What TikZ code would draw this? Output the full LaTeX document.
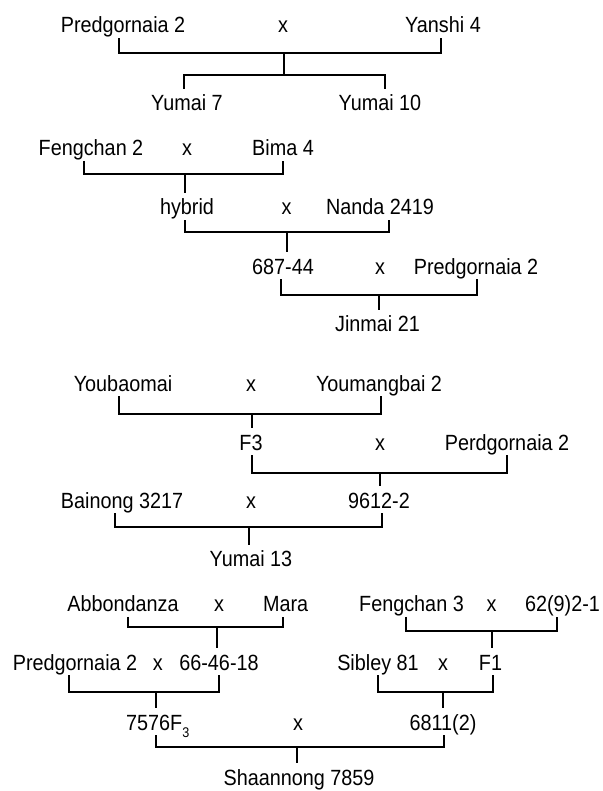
\documentclass[tikz,border=0pt]{standalone}
\usepackage{fontspec}
\setmainfont{Liberation Sans}[FakeStretch=0.9]
\usepackage{tikz}
\tikzset{
    cultivar/.style={
        anchor=base, inner sep=0pt, text height=22pt, text depth=5pt,
        font=\fontsize{22}{26}\selectfont
    }
}

\begin{document}
\begin{tikzpicture}[x=1pt, y=-1pt, link/.style={draw=black, line width=2pt}]
		\useasboundingbox (0,0) rectangle (602,791);
		\node[cultivar] (pred1) at (123,33) {Predgornaia 2};
		\node[cultivar] (x1) at (283,33) {x};
		\node[cultivar] (yanshi) at (443,33) {Yanshi 4};
		\node[cultivar] (yumai7) at (187,111) {Yumai 7};
		\node[cultivar] (yumai10) at (380,111) {Yumai 10};
		\coordinate (j1) at (284,53);
		\coordinate (s1) at (284,75);
		\draw[link] ([xshift=-4pt]pred1.south) |- (j1) -| ([xshift=-2pt]yanshi.south);
		\draw[link] (j1) -- (s1);
		\draw[link] ([xshift=-3.5pt]yumai7.north) |- (s1) -| ([xshift=5pt]yumai10.north);
		
		\node[cultivar] (feng2) at (91,155.7) {Fengchan 2};
		\node[cultivar] (x2) at (187,155.7) {x};
		\node[cultivar] (bima) at (283,155.7) {Bima 4};
		\node[cultivar] (hyb) at (187,215) {hybrid};
		\node[cultivar] (x3) at (286.5,215) {x};
		\node[cultivar] (nanda) at (380,215) {Nanda 2419};
		\node[cultivar] (l68744) at (283,274) {687-44};
		\node[cultivar] (x4) at (380,274) {x};
		\node[cultivar] (pred2) at (476,274) {Predgornaia 2};
		\node[cultivar] (jinmai) at (377.5,331.7) {Jinmai 21};
		\coordinate (j2) at (185,174);
		\coordinate (j3) at (286.5,231.7);
		\coordinate (j4) at (379,295);
		\draw[link] ([xshift=-7pt]feng2.south) |- (j2) -| (bima.south);
		\draw[link] (j2) -- (j2 |- hyb.north);
		\draw[link] ([xshift=-2pt]hyb.south) |- (j3) -| ([xshift=8.5pt]nanda.south);
		\draw[link] (j3) -- (j3 |- l68744.north);
		\draw[link] ([xshift=-2pt]l68744.south) |- (j4) -| ([xshift=1pt]pred2.south);
		\draw[link] (j4) -- (j4 |- jinmai.north);
		
		\node[cultivar] (youbao) at (123,391) {Youbaomai};
		\node[cultivar] (x5) at (251,391) {x};
		\node[cultivar] (youmang) at (379,391) {Youmangbai 2};
		\node[cultivar] (fthree) at (251,450) {F3};
		\node[cultivar] (x6) at (380,450) {x};
		\node[cultivar] (perd) at (507,450) {Perdgornaia 2};
		\node[cultivar] (bainong) at (122,508) {Bainong 3217};
		\node[cultivar] (x7) at (251,508) {x};
		\node[cultivar] (l96122) at (379,508) {9612-2};
		\node[cultivar] (yumai13) at (251,566.7) {Yumai 13};
		\coordinate (j5) at (252,414);
		\coordinate (j6) at (380,472.7);
		\coordinate (j7) at (249,527);
		\draw[link] ([xshift=-4pt]youbao.south) |- (j5) -| ([xshift=2pt]youmang.south);
		\draw[link] (j5) -- (j5 |- fthree.north);
		\draw[link] ([xshift=1pt]fthree.south) |- (j6) -| (perd.south);
		\draw[link] (j6) -- (j6 |- l96122.north);
		\draw[link] ([xshift=-7.5pt]bainong.south) |- (j7) -| ([xshift=2.5pt]l96122.south);
		\draw[link] (j7) -- (j7 |- yumai13.north);
		
		\node[cultivar] (abbon) at (123,611.7) {Abbondanza};
		\node[cultivar] (x8) at (219,611.7) {x};
		\node[cultivar] (mara) at (285.6,611.7) {Mara};
		\node[cultivar] (feng3) at (411.5,611.7) {Fengchan 3};
		\node[cultivar] (x9) at (491.5,611.7) {x};
		\node[cultivar] (l6292) at (562.5,611.7) {62(9)2-1};
		\node[cultivar] (pred3) at (75,670) {Predgornaia 2};
		\node[cultivar] (x10) at (157.7,670) {x};
		\node[cultivar] (l664618) at (219,670) {66-46-18};
		\node[cultivar] (sibley) at (378,670) {Sibley 81};
		\node[cultivar] (x11) at (443,670) {x};
		\node[cultivar] (fone) at (490.5,670) {F1};
		\node[cultivar] (l7576) at (157.75,730) {7576F\raisebox{-7pt}{\fontsize{14}{14}\selectfont 3}};
		\node[cultivar] (x12) at (298,730) {x};
		\node[cultivar] (l6811) at (443,730) {6811(2)};
		\node[cultivar] (shaan) at (299,785.5) {Shaannong 7859};
		\coordinate (j8) at (217.3,627.3);
		\coordinate (j9) at (491.5,631);
		\coordinate (j10) at (155.8,691.7);
		\coordinate (j11) at (443,692.3);
		\coordinate (j12) at (297.3,747);
		\draw[link] ([xshift=5pt]abbon.south) |- (j8) -| ([xshift=-2.6pt]mara.south);
		\draw[link] ([xshift=-5.5pt]feng3.south) |- (j9) -| ([xshift=-5.5pt]l6292.south);
		\draw[link] (j8) -- (j8 |- l664618.north);
		\draw[link] (j9) -- (j9 |- fone.north);
		\draw[link] ([xshift=-6.5pt]pred3.south) |- (j10) -| (l664618.south);
		\draw[link] (sibley.south) |- (j11) -| ([xshift=2.5pt]fone.south);
		\draw[link] (j10) -- (j10 |- l7576.north);
		\draw[link] (j11) -- (j11 |- l6811.north);
		\draw[link] ([xshift=-2pt]l7576.south) |- (j12) -| ([xshift=1pt]l6811.south);
		\draw[link] (j12) -- (j12 |- shaan.north);
\end{tikzpicture}
\end{document}
